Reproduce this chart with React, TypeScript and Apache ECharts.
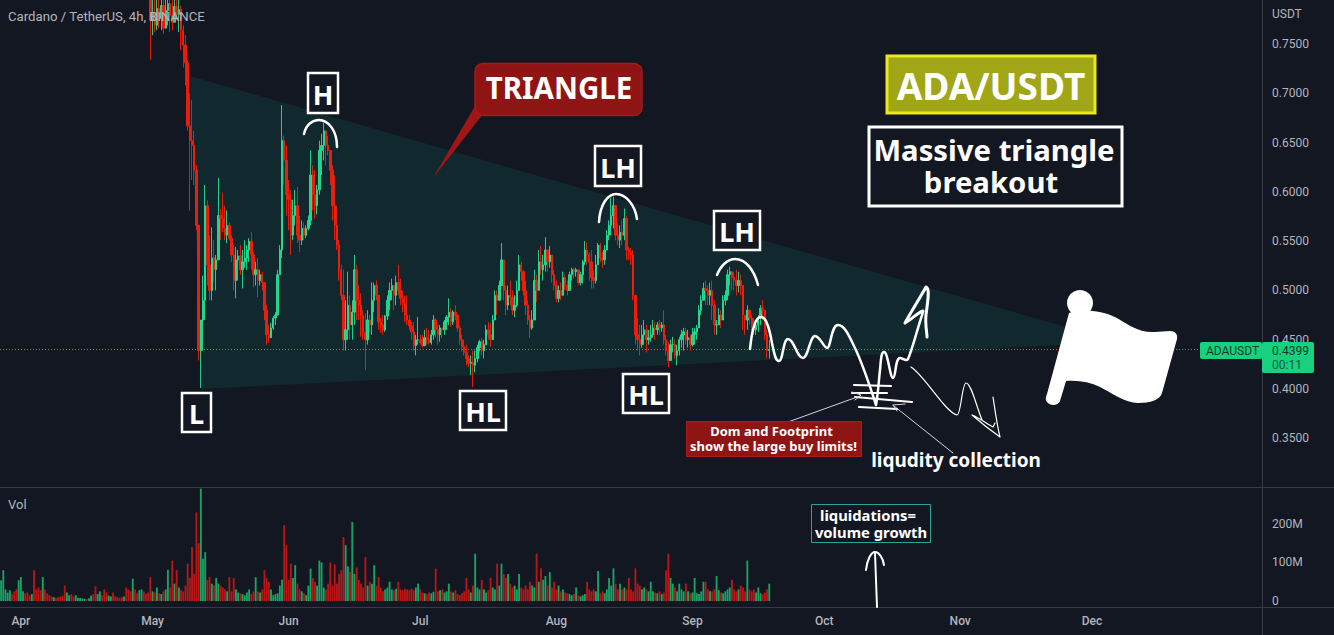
import React, { useEffect, useRef } from "react";
import * as echarts from "echarts";

const W = 1334;
const H = 635;
const BG = "#131722";
const AXIS_TEXT = "#b2b5be";
const FONT = "Roboto, 'Noto Sans', sans-serif";
const NOTE_FONT = "'Noto Sans', sans-serif";

// Month labels of the time scale
const MONTH_NAMES = ["Apr", "May", "Jun", "Jul", "Aug", "Sep", "Oct", "Nov", "Dec"];
const LAST_PRICE = 0.4399;

// 12h candles in thousandths of USDT. Closes before May are above the visible window.
const earlyCloses = [
  1145,1158,1170,1185,1192,1178,1165,1150,1158,1172,
  1180,1168,1155,1140,1160,1148,1130,1112,1095,1105,
  1090,1072,1060,1045,1052,1030,1012,960,952,945,
  968,975,960,940,948,955,962,970,985,978,
  990,1000,982,965,972,985,978,960,945,950,
  965,958,940,930,918,905,925,915,890,872,
  880,865,845,855,870,850,835,815,
];
const closes = [
  774,782,769,786,776,789,766,784,791,779,772,788,780,785,764,749,731,
  667,652,647,622,566,439,470,490,586,526,500,533,521,531,576,573,563,556,566,
  553,536,510,531,535,521,529,533,541,550,536,516,521,510,516,508,480,455,452,462,
  472,475,516,541,652,632,597,592,556,576,586,556,551,563,556,563,571,617,597,586,
  602,642,647,662,647,642,622,586,566,546,521,495,450,460,485,465,478,521,490,485,
  475,457,450,470,465,490,505,495,468,465,460,474,490,500,505,495,508,500,492,487,
  475,470,464,458,444,450,450,447,444,452,450,447,455,470,460,455,462,460,468,473,
  478,468,478,475,462,450,443,437,431,426,427,424,431,442,448,439,445,460,455,450,
  470,495,490,505,531,500,485,495,493,480,485,500,526,519,500,485,470,462,470,510,
  500,529,521,526,541,529,536,516,505,492,500,495,513,505,500,516,521,519,521,508,
  516,529,541,536,529,513,510,526,546,533,531,541,556,566,576,586,556,551,559,556,
  573,541,539,536,495,455,450,445,455,460,450,452,455,462,460,465,462,465,450,439,
  429,445,445,434,439,450,455,458,450,452,445,455,458,462,480,490,502,500,495,500,
  485,465,465,475,470,490,495,516,519,513,510,505,510,505,475,470,480,472,465,460,
  465,472,482,480,455,439,440,
];
const highs = [
  805,800,795,803,795,805,795,800,806,795,795,802,795,795,789,769,759,
  734,700,693,662,627,566,470,515,607,591,556,564,551,536,614,583,599,586,581,
  569,556,546,544,541,546,541,551,546,553,559,539,529,533,521,519,505,485,465,467,
  474,478,521,546,688,657,647,612,602,592,602,605,576,571,569,566,576,642,627,622,
  607,652,659,670,660,657,642,627,617,586,551,526,521,490,519,495,490,536,526,505,
  497,480,477,480,475,508,508,510,490,472,475,475,495,508,512,505,515,526,512,500,
  495,495,475,468,468,455,473,455,455,460,462,460,460,475,472,465,465,462,470,475,
  492,482,480,485,472,465,455,450,445,434,434,439,439,445,450,452,450,465,468,467,
  475,500,500,510,548,526,505,505,510,500,495,510,536,529,521,510,490,475,480,521,
  516,541,545,536,554,541,545,529,521,510,505,508,519,516,510,519,523,523,523,521,
  519,531,550,549,539,541,521,536,548,548,539,546,561,571,594,595,581,569,566,571,
  583,576,544,543,541,495,472,465,465,470,465,460,465,470,468,468,470,468,480,455,
  448,450,453,450,445,453,460,462,462,460,455,462,462,465,485,495,508,510,505,508,
  510,490,470,482,480,495,500,521,524,519,519,521,519,516,505,475,485,480,475,472,
  470,475,485,490,480,460,450,
];
const lows = [
  734,759,762,764,766,764,760,772,769,762,764,772,774,762,744,726,708,
  662,581,612,607,561,429,401,439,470,505,490,490,508,500,536,551,559,551,548,
  551,529,500,492,510,516,502,523,521,529,521,503,505,493,505,500,470,445,447,455,
  460,465,475,516,533,607,576,561,536,551,566,548,539,546,551,553,561,566,581,573,
  577,597,617,632,627,637,607,571,551,541,510,490,439,439,450,450,450,465,470,470,
  453,450,419,445,458,455,478,490,460,457,455,458,470,480,490,480,485,495,485,478,
  468,465,460,450,439,434,445,445,442,445,445,445,445,450,452,445,448,452,455,460,
  465,463,465,470,458,445,438,434,424,422,414,402,417,427,438,434,431,445,450,443,
  455,470,475,490,505,490,475,480,485,475,473,483,505,510,495,475,465,452,460,480,
  488,510,516,510,519,519,523,508,500,488,488,490,495,500,495,505,510,512,514,505,
  505,507,526,526,510,502,502,507,529,529,523,526,541,551,556,563,551,546,543,546,
  551,531,531,526,490,445,439,434,442,445,437,445,448,452,450,455,455,458,445,434,
  422,429,437,431,424,434,442,439,445,442,439,443,445,450,462,475,490,485,485,485,
  470,455,455,465,462,470,485,490,505,500,500,495,498,495,460,455,460,465,460,455,
  455,458,465,470,450,431,431,
];
// Volume per candle in millions
const volumes = [
  54,80,30,22,28,18,25,30,54,62,25,20,22,15,18,80,30,35,28,62,
  30,20,15,12,10,8,10,12,14,40,22,15,18,12,15,8,8,6,6,5,
  7,14,18,38,18,25,15,30,22,14,12,22,12,10,8,10,12,35,30,25,
  58,30,20,28,30,25,18,22,62,25,22,35,20,18,25,30,81,35,105,45,
  80,35,28,25,40,97,60,140,70,230,150,292,110,127,55,62,45,40,60,45,
  40,35,30,25,62,25,60,30,22,20,18,15,22,30,18,25,62,25,22,30,
  80,60,50,30,15,18,20,40,55,197,145,55,97,60,93,45,30,25,20,15,
  40,84,60,50,40,105,100,35,30,45,100,40,95,45,70,80,166,145,90,75,
  205,70,87,55,45,35,114,40,50,45,93,40,62,35,25,30,35,50,30,28,
  32,50,30,28,32,30,28,32,28,35,45,30,22,20,18,22,20,24,84,25,
  28,30,22,25,45,25,22,28,18,15,20,25,60,30,22,40,123,35,30,55,
  30,22,28,60,35,30,97,40,97,70,60,70,45,35,40,30,70,35,30,40,
  30,50,40,35,123,50,85,55,65,40,75,35,50,30,40,25,30,22,20,18,
  15,18,35,15,12,15,18,50,30,25,30,25,78,20,25,20,30,60,40,85,
  45,30,45,30,35,30,60,30,25,85,45,40,30,35,30,25,50,25,22,20,
  25,18,22,80,123,60,45,35,25,45,30,25,45,25,20,22,60,20,18,25,
  50,50,30,25,25,30,65,28,22,20,25,30,35,55,30,25,30,40,35,25,
  105,30,25,30,22,35,20,18,22,30,45,
];

// Hand-drawn annotation strokes
const ANNOTATIONS: Record<string, string> = {
  archH: "M304,134 C306,124 313,120 319,120 C328,120 337,130 337,147",
  archLH1: "M599,222 C600,204 608,194 616,194 C626,194 635,205 637,219",
  archLH2: "M717,275 C721,265 728,259 735,259 C746,259 754,270 758,285",
  wave: "M750,349 C752,330 755,317 761,317 C767,317 770,332 772,343 C774,352 775,361 779,361 C783,361 783,339 788,339 C794,339 797,358 803,358 C808,358 810,336 815,336 C820,336 824,348 827,348 C831,348 831,325 838,325 C845,325 850,338 854,346 C860,358 868,380 876,405 C878,395 879,378 880,370 C881,360 881,352 884,352 C888,352 890,378 893,378 C896,378 895,358 900,358 C903,358 906,362 908,359 C912,350 915,337 923,312",
  arrowUp: "M905,323 C912,310 920,298 926,287 C930,288 928,300 926,315 C925,325 927,332 927,337 M905,323 C911,320 917,313 923,311",
  thinFall: "M911,367 C925,376 945,412 957,415 C961,415 962,383 966,383 C971,383 976,405 982,420 M972,415 C980,422 990,430 1000,437 C997,425 995,410 993,397 M972,415 C980,418 988,425 993,427 L995,423",
  limit1: "M854,385 L891,386",
  limit2: "M852,393 L887,393",
  limit3: "M855,397 L912,402",
  limit4: "M859,407 L897,409",
  pointerDom: "M788,422 L860,396 M852,392 L861,395 L855,400",
  pointerLiq: "M953,453 L894,406 M893,405 L905,404 M893,405 L897,411",
  arrowVol: "M877,607 L875,553 M866,570 C867,560 871,552 875,552 C879,552 883,558 884,565",
  flag: "M1069,313 C1078,309 1100,309 1117,318 C1130,326 1140,333 1155,332 C1160,332 1165,331 1170,331 C1175,331 1178,334 1177,339 L1162,393 C1160,400 1150,403 1138,403 C1125,403 1112,393 1100,387 C1090,382 1078,380 1066,381 L1060,401 C1058,406 1050,406 1047,402 C1045,399 1046,397 1047,394 L1069,313 Z",
};

Object.keys(ANNOTATIONS).forEach((name) => {
  echarts.graphic.registerShape(name, echarts.graphic.extendPath(ANNOTATIONS[name], {}));
});

function buildCategories() {
  const out: string[] = [];
  const start = Date.UTC(2022, 2, 27, 12);
  for (let i = 0; i < 575; i++) {
    const d = new Date(start + i * 12 * 3600 * 1000);
    const isMonthStart = d.getUTCDate() === 1 && d.getUTCHours() === 0;
    const name = MONTH_NAMES[d.getUTCMonth() - 3];
    out.push(isMonthStart && name ? name : "");
  }
  return out;
}

function buildOption() {
  const categories = buildCategories();
  const allCloses = earlyCloses.concat(closes);
  const candles: (number | string)[][] = [];
  const volumeData: any[] = [];
  allCloses.forEach((c, i) => {
    const o = i === 0 ? c : allCloses[i - 1];
    const k = i - earlyCloses.length;
    const hi = k >= 0 ? highs[k] : c;
    const lo = k >= 0 ? lows[k] : c;
    candles.push([
      o / 1000,
      c / 1000,
      Math.min(lo, o, c) / 1000,
      Math.max(hi, o, c) / 1000,
    ]);
    volumeData.push({
      value: volumes[i],
      itemStyle: { color: c >= o ? "#17a566" : "#bb1616" },
    });
  });

  const stroke = (name: string, lineWidth: number, color = "#ffffff") => ({
    type: name,
    z: 50,
    silent: true,
    style: { fill: "none", stroke: color, lineWidth, lineCap: "round", lineJoin: "round" },
  });
  const text = (x: number, y: number, t: string, size: number, extra: any = {}) => ({
    type: "text",
    x,
    y,
    z: 52,
    silent: true,
    style: {
      text: t,
      fontFamily: NOTE_FONT,
      fontWeight: "bold",
      fontSize: size,
      fill: "#ffffff",
      align: "center",
      verticalAlign: "middle",
      ...extra,
    },
  });
  const box = (x: number, y: number, w: number, h: number, fill: string, border: string, lw: number, r = 0) => ({
    type: "rect",
    z: 51,
    silent: true,
    shape: { x, y, width: w, height: h, r },
    style: { fill, stroke: border, lineWidth: lw },
  });
  const label = (x: number, y: number, w: number, h: number, t: string) => [
    box(x, y, w, h, BG, "#ffffff", 2.5),
    text(x + w / 2, y + h / 2 + 1, t, 27),
  ];
  const rule = (x1: number, y1: number, x2: number, y2: number) => ({
    type: "line",
    z: 40,
    silent: true,
    shape: { x1, y1, x2, y2 },
    style: { stroke: "#363a45", lineWidth: 1 },
  });

  return {
    animation: false,
    backgroundColor: BG,
    grid: [
      { left: 0, top: 0, width: 1262, height: 487.6 },
      { left: 0, top: 488, width: 1262, height: 113 },
    ],
    xAxis: [
      { type: "category", gridIndex: 0, data: categories, show: false, boundaryGap: true },
      {
        type: "category",
        gridIndex: 1,
        data: categories,
        boundaryGap: true,
        axisLine: { show: false },
        axisTick: { show: false },
        splitLine: { show: false },
        axisLabel: {
          interval: (_: number, v: string) => v !== "",
          color: AXIS_TEXT,
          fontFamily: FONT,
          fontWeight: 500,
          fontSize: 12,
          margin: 14,
        },
      },
    ],
    yAxis: [
      {
        type: "value",
        gridIndex: 0,
        position: "right",
        min: 0.3,
        max: 0.7946,
        interval: 0.05,
        axisLine: { show: false },
        axisTick: { show: false },
        splitLine: { show: false },
        axisLabel: {
          showMinLabel: false,
          showMaxLabel: false,
          color: AXIS_TEXT,
          fontFamily: FONT,
          fontSize: 12,
          margin: 10,
          formatter: (v: number) => v.toFixed(4),
        },
      },
      {
        type: "value",
        gridIndex: 1,
        position: "right",
        min: 0,
        max: 293.5,
        interval: 100,
        axisLine: { show: false },
        axisTick: { show: false },
        splitLine: { show: false },
        axisLabel: {
          showMaxLabel: false,
          color: AXIS_TEXT,
          fontFamily: FONT,
          fontSize: 12,
          margin: 10,
          formatter: (v: number) => (v === 0 ? "0" : v + "M"),
        },
      },
    ],
    series: [
      {
        type: "candlestick",
        xAxisIndex: 0,
        yAxisIndex: 0,
        data: candles,
        barWidth: 1.9,
        z: 5,
        itemStyle: {
          color: "#26e596",
          color0: "#ff1e0a",
          borderColor: "#26e596",
          borderColor0: "#ff1e0a",
          borderWidth: 1,
          opacity: 0.88,
        },
        markLine: {
          silent: true,
          symbol: "none",
          label: { show: false },
          lineStyle: { color: "#ff3f58", type: [1, 2], width: 1, opacity: 1 },
          data: [{ yAxis: LAST_PRICE }],
        },
      },
      {
        type: "bar",
        xAxisIndex: 1,
        yAxisIndex: 1,
        data: volumeData,
        barWidth: 1.85,
      },
    ],
    graphic: {
      elements: [
        // triangle body, under the candles
        {
          type: "polygon",
          z: 1,
          silent: true,
          shape: { points: [[190, 76], [1118, 342], [202, 389]] },
          style: { fill: "#12282f" },
        },
        rule(0, 487.5, W, 487.5),
        rule(0, 607.5, W, 607.5),
        rule(1262.5, 0, 1262.5, H),
        text(8, 16, "Cardano / TetherUS, 4h, BINANCE", 13.2, { fontFamily: FONT, fontWeight: "normal", fill: AXIS_TEXT, align: "left" }),
        text(8, 504, "Vol", 13, { fontFamily: FONT, fontWeight: "normal", fill: AXIS_TEXT, align: "left" }),
        text(1272, 14, "USDT", 12, { fontFamily: FONT, fontWeight: "normal", fill: AXIS_TEXT, align: "left" }),

        ...label(308, 73, 30, 40, "H"),
        ...label(182, 393, 29, 39, "L"),
        ...label(460, 391, 46, 39, "HL"),
        ...label(595, 146, 46, 40, "LH"),
        ...label(714, 211, 46, 39, "LH"),
        ...label(623, 374, 46, 39, "HL"),

        stroke("archH", 2.5),
        stroke("archLH1", 2.5),
        stroke("archLH2", 2.5),
        stroke("wave", 2.5),
        stroke("arrowUp", 3),
        stroke("thinFall", 1.2),
        stroke("limit1", 2.2),
        stroke("limit2", 2.2),
        stroke("limit3", 2.2),
        stroke("limit4", 2.2),
        stroke("pointerDom", 1, "#d1d4dc"),
        stroke("pointerLiq", 1, "#d1d4dc"),
        stroke("arrowVol", 2),

        {
          type: "polygon",
          z: 51,
          silent: true,
          shape: { points: [[475, 106], [433, 178], [483, 114]] },
          style: { fill: "#a01616" },
        },
        box(475, 63.5, 167, 52, "#8f1414", "#a81a1a", 1.5, 8),
        text(559, 87.5, "TRIANGLE", 29.5),

        box(887, 56, 208, 57, "#a0a616", "#e9e91c", 3),
        text(991, 85, "ADA/USDT", 37),

        box(869, 127, 253, 79, BG, "#ffffff", 3),
        text(994, 149.5, "Massive triangle", 29.3),
        text(991, 181.5, "breakout", 29.3),

        box(686.5, 421.5, 175, 35, "#8f1414", "#b01a1a", 1),
        text(771.5, 431, "Dom and Footprint", 13),
        text(773.5, 446, "show the large buy limits!", 13),

        text(956, 460, "liqudity collection", 19),

        box(811.5, 504.5, 119, 38, BG, "#26a69a", 1),
        text(868, 515, "liquidations=", 14.8),
        text(871, 532, "volume growth", 14.8),

        { type: "circle", z: 60, silent: true, shape: { cx: 1080, cy: 303, r: 13 }, style: { fill: "#ffffff" } },
        { type: "flag", z: 60, silent: true, style: { fill: "#ffffff", stroke: "none" } },

        box(1200, 342, 62, 17, "#17d17e", "none", 0, 2),
        text(1206, 351, "ADAUSDT", 12, { fontFamily: FONT, fontWeight: "normal", fill: "#0b3b2a", align: "left" }),
        box(1262, 342, 52, 31, "#17d17e", "none", 0, 2),
        text(1272, 351, LAST_PRICE.toFixed(4), 12, { fontFamily: FONT, fontWeight: "normal", fill: "#0b3b2a", align: "left" }),
        text(1272, 365, "00:11", 12, { fontFamily: FONT, fontWeight: "normal", fill: "#0e5c40", align: "left" }),
      ],
    },
  };
}

export default function App() {
  const ref = useRef<HTMLDivElement>(null);
  useEffect(() => {
    const chart = echarts.init(ref.current!, undefined, { renderer: "svg" });
    chart.setOption(buildOption() as any);
    return () => chart.dispose();
  }, []);
  return <div ref={ref} style={{ position: "absolute", left: 0, top: 0, width: W, height: H }} />;
}
